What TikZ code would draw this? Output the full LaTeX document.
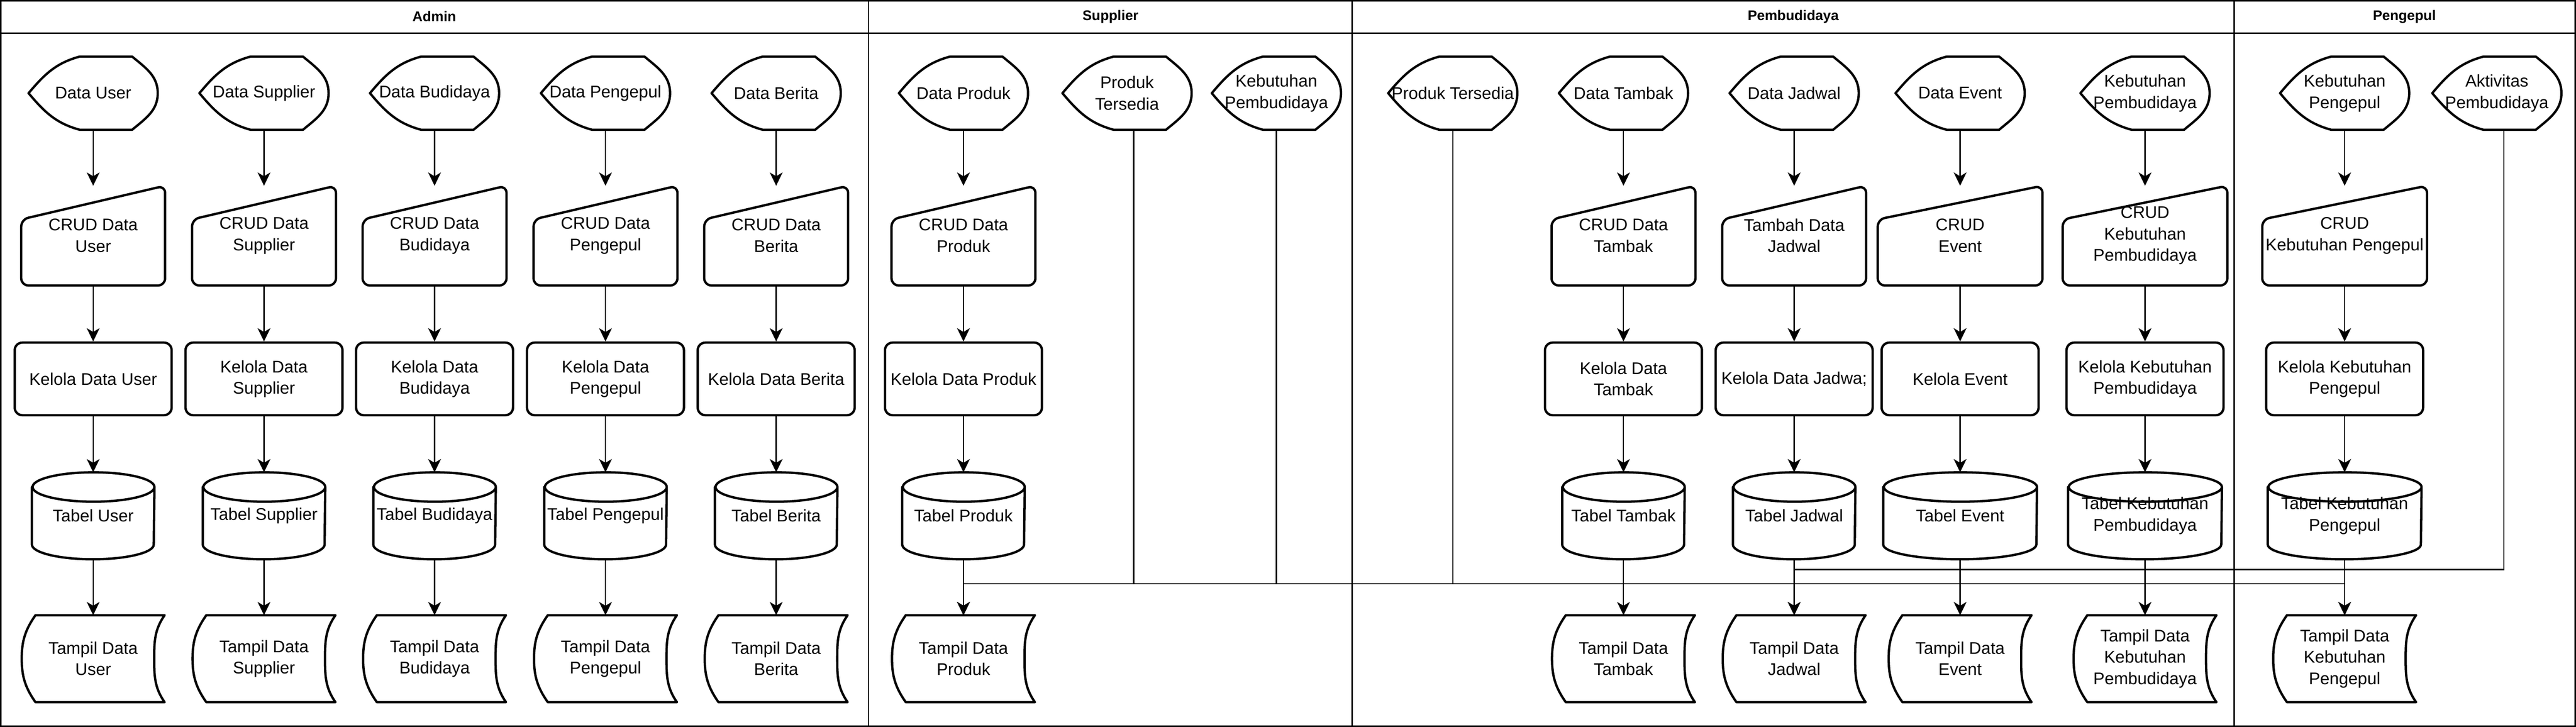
\documentclass[tikz,border=0pt]{standalone}
\usepackage{fontspec}
\setmainfont{Liberation Sans}
\usetikzlibrary{arrows.meta,positioning}

\tikzset{
	shapeline/.style={line width=1.4pt,line join=round,line cap=round},
	txt/.style={inner sep=1pt,align=center,font=\fontsize{10.15}{12.8}\selectfont},
	disp/.style={txt,minimum width=2.71cm,minimum height=1.53cm},
	crud/.style={txt,minimum width=3.02cm,minimum height=2.09cm},
	kelola/.style={txt,shapeline,draw,rounded corners=0.16cm,minimum width=3.31cm,minimum height=1.53cm},
	tabel/.style={txt,minimum width=2.57cm,minimum height=1.82cm},
	tampil/.style={txt,minimum width=3cm,minimum height=1.82cm},
	lanetitle/.style={font=\fontsize{8.4}{10}\selectfont\bfseries},
	laneline/.style={line width=0.8pt},
	flowline/.style={line width=0.75pt,-{Stealth[length=0.28cm,width=0.27cm,inset=0.08cm]}}
}

\begin{document}
\begin{tikzpicture}[node distance=1.18cm]
	\useasboundingbox (0,0) rectangle (54.33,-15.33);
	% lanes
	\draw[laneline] (0.015,-0.015) rectangle (54.315,-15.315);
	\draw[laneline] (0.015,-0.7) -- (54.315,-0.7);
	\draw[laneline] (18.32,-0.015) -- (18.32,-15.315);
	\draw[laneline] (28.52,-0.015) -- (28.52,-15.315);
	\draw[laneline] (47.12,-0.015) -- (47.12,-15.315);
	\node[lanetitle] (admin) at (9.16,-0.35) {Admin};
	\node[lanetitle] (supplier) at (23.42,-0.35) {Supplier};
	\node[lanetitle] (pembudidaya) at (37.82,-0.35) {Pembudidaya};
	\node[lanetitle] (pengepul) at (50.71,-0.35) {Pengepul};

	% Admin
	\node[disp] (a11) at (1.965,-1.965) {Data User};
	\node[crud,below=of a11] (a12) {CRUD Data\\User};
	\node[kelola,below=of a12] (a13) {Kelola Data User};
	\node[tabel,below=of a13] (a14) {Tabel User};
	\node[tampil,below=of a14] (a15) {Tampil Data\\User};

	\node[disp] (a21) at (5.568,-1.965) {Data Supplier};
	\node[crud,below=of a21] (a22) {CRUD Data\\Supplier};
	\node[kelola,below=of a22] (a23) {Kelola Data\\Supplier};
	\node[tabel,below=of a23] (a24) {Tabel Supplier};
	\node[tampil,below=of a24] (a25) {Tampil Data\\Supplier};

	\node[disp] (a31) at (9.165,-1.965) {Data Budidaya};
	\node[crud,below=of a31] (a32) {CRUD Data\\Budidaya};
	\node[kelola,below=of a32] (a33) {Kelola Data\\Budidaya};
	\node[tabel,below=of a33] (a34) {Tabel Budidaya};
	\node[tampil,below=of a34] (a35) {Tampil Data\\Budidaya};

	\node[disp] (a41) at (12.77,-1.965) {Data Pengepul};
	\node[crud,below=of a41] (a42) {CRUD Data\\Pengepul};
	\node[kelola,below=of a42] (a43) {Kelola Data\\Pengepul};
	\node[tabel,below=of a43] (a44) {Tabel Pengepul};
	\node[tampil,below=of a44] (a45) {Tampil Data\\Pengepul};

	\node[disp] (a51) at (16.37,-1.965) {Data Berita};
	\node[crud,below=of a51] (a52) {CRUD Data\\Berita};
	\node[kelola,below=of a52] (a53) {Kelola Data Berita};
	\node[tabel,below=of a53] (a54) {Tabel Berita};
	\node[tampil,below=of a54] (a55) {Tampil Data\\Berita};

	% Supplier
	\node[disp] (s11) at (20.32,-1.965) {Data Produk};
	\node[crud,below=of s11] (s12) {CRUD Data\\Produk};
	\node[kelola,below=of s12] (s13) {Kelola Data Produk};
	\node[tabel,below=of s13] (s14) {Tabel Produk};
	\node[tampil,below=of s14] (s15) {Tampil Data\\Produk};
	\node[disp] (s21) at (23.77,-1.965) {Produk\\Tersedia};
	\node[disp] (s31) at (26.92,-1.965) {Kebutuhan\\Pembudidaya};

	% Pembudidaya
	\node[disp] (p11) at (30.64,-1.965) {Produk Tersedia};

	\node[disp] (p21) at (34.24,-1.965) {Data Tambak};
	\node[crud,below=of p21] (p22) {CRUD Data\\Tambak};
	\node[kelola,below=of p22] (p23) {Kelola Data\\Tambak};
	\node[tabel,below=of p23] (p24) {Tabel Tambak};
	\node[tampil,below=of p24] (p25) {Tampil Data\\Tambak};

	\node[disp] (p31) at (37.84,-1.965) {Data Jadwal};
	\node[crud,below=of p31] (p32) {Tambah Data\\Jadwal};
	\node[kelola,below=of p32] (p33) {Kelola Data Jadwa;};
	\node[tabel,below=of p33] (p34) {Tabel Jadwal};
	\node[tampil,below=of p34] (p35) {Tampil Data\\Jadwal};

	\node[disp] (p41) at (41.34,-1.965) {Data Event};
	\node[crud,minimum width=3.46cm,below=of p41] (p42) {CRUD\\Event};
	\node[kelola,below=of p42] (p43) {Kelola Event};
	\node[tabel,minimum width=3.23cm,below=of p43] (p44) {Tabel Event};
	\node[tampil,below=of p44] (p45) {Tampil Data\\Event};

	\node[disp] (p51) at (45.24,-1.965) {Kebutuhan\\Pembudidaya};
	\node[crud,minimum width=3.46cm,below=of p51] (p52) {CRUD\\Kebutuhan\\Pembudidaya};
	\node[kelola,below=of p52] (p53) {Kelola Kebutuhan\\Pembudidaya};
	\node[tabel,minimum width=3.23cm,below=of p53] (p54) {Tabel Kebutuhan\\Pembudidaya};
	\node[tampil,below=of p54] (p55) {Tampil Data\\Kebutuhan\\Pembudidaya};

	% Pengepul
	\node[disp] (g11) at (49.45,-1.965) {Kebutuhan\\Pengepul};
	\node[crud,minimum width=3.46cm,below=of g11] (g12) {CRUD\\Kebutuhan Pengepul};
	\node[kelola,below=of g12] (g13) {Kelola Kebutuhan\\Pengepul};
	\node[tabel,minimum width=3.23cm,below=of g13] (g14) {Tabel Kebutuhan\\Pengepul};
	\node[tampil,below=of g14] (g15) {Tampil Data\\Kebutuhan\\Pengepul};
	\node[disp] (g21) at (52.66,-1.965) {Aktivitas\\Pembudidaya};

	% outlines
	\foreach \n in {a11,a21,a31,a41,a51,s11,s21,s31,p11,p21,p31,p41,p51,g11,g21}
		\draw[shapeline] (\n.west) to[out=50,in=195] ([xshift=1.08cm]\n.north west) -- ([xshift=-0.54cm]\n.north east) to[out=-40,in=90] (\n.east) to[out=-90,in=40] ([xshift=-0.54cm]\n.south east) -- ([xshift=1.08cm]\n.south west) to[out=165,in=-50] (\n.west);
	\foreach \n in {a12,a22,a32,a42,a52,s12,p22,p32,p42,p52,g12}
		\draw[shapeline,rounded corners=0.15cm] (\n.south) -- (\n.south west) -- ([yshift=-0.71cm]\n.north west) -- (\n.north east) -- (\n.south east) -- cycle;
	\foreach \n/\r in {a14/1.285,a24/1.285,a34/1.285,a44/1.285,a54/1.285,s14/1.285,p24/1.285,p34/1.285,p44/1.615,p54/1.615,g14/1.615}
		\draw[shapeline] ([yshift=-0.31cm]\n.north west) -- ([yshift=0.31cm]\n.south west) arc[start angle=180,end angle=360,x radius=\r,y radius=0.31] -- ([yshift=-0.31cm]\n.north east) arc[start angle=0,end angle=180,x radius=\r,y radius=0.31] arc[start angle=180,end angle=360,x radius=\r,y radius=0.31];
	\foreach \n in {a15,a25,a35,a45,a55,s15,p25,p35,p45,p55,g15}
		\draw[shapeline] ([xshift=0.29cm]\n.north west) -- (\n.north east) to[out=235,in=90] ([xshift=-0.22cm]\n.east) to[out=-90,in=125] (\n.south east) -- ([xshift=0.29cm]\n.south west) to[out=125,in=-90] (\n.west) to[out=90,in=235] ([xshift=0.29cm]\n.north west);

	% flows
	\path[flowline] (a11) edge (a12) (a12) edge (a13) (a13) edge (a14) (a14) edge (a15);
	\path[flowline] (a21) edge (a22) (a22) edge (a23) (a23) edge (a24) (a24) edge (a25);
	\path[flowline] (a31) edge (a32) (a32) edge (a33) (a33) edge (a34) (a34) edge (a35);
	\path[flowline] (a41) edge (a42) (a42) edge (a43) (a43) edge (a44) (a44) edge (a45);
	\path[flowline] (a51) edge (a52) (a52) edge (a53) (a53) edge (a54) (a54) edge (a55);
	\path[flowline] (s11) edge (s12) (s12) edge (s13) (s13) edge (s14) (s14) edge (s15);
	\path[flowline] (p21) edge (p22) (p22) edge (p23) (p23) edge (p24) (p24) edge (p25);
	\path[flowline] (p31) edge (p32) (p32) edge (p33) (p33) edge (p34) (p34) edge (p35);
	\path[flowline] (p41) edge (p42) (p42) edge (p43) (p43) edge (p44) (p44) edge (p45);
	\path[flowline] (p51) edge (p52) (p52) edge (p53) (p53) edge (p54) (p54) edge (p55);
	\path[flowline] (g11) edge (g12) (g12) edge (g13) (g13) edge (g14) (g14) edge (g15);

	% lines between lanes
	\coordinate (busA) at (0,-12.31);
	\coordinate (busB) at (0,-12.01);
	\coordinate (s21x) at ([xshift=0.14cm]s21.south);
	\coordinate (g21x) at ([xshift=0.15cm]g21.south);
	\draw[flowline] (s21x) -- (s21x |- busA) -| (s15);
	\draw[flowline] (p11) -- (p11 |- busA) -| (s15);
	\draw[flowline] (s31) -- (s31 |- busA) -| (g15);
	\draw[flowline] (g21x) -- (g21x |- busB) -| (p35);
\end{tikzpicture}
\end{document}
